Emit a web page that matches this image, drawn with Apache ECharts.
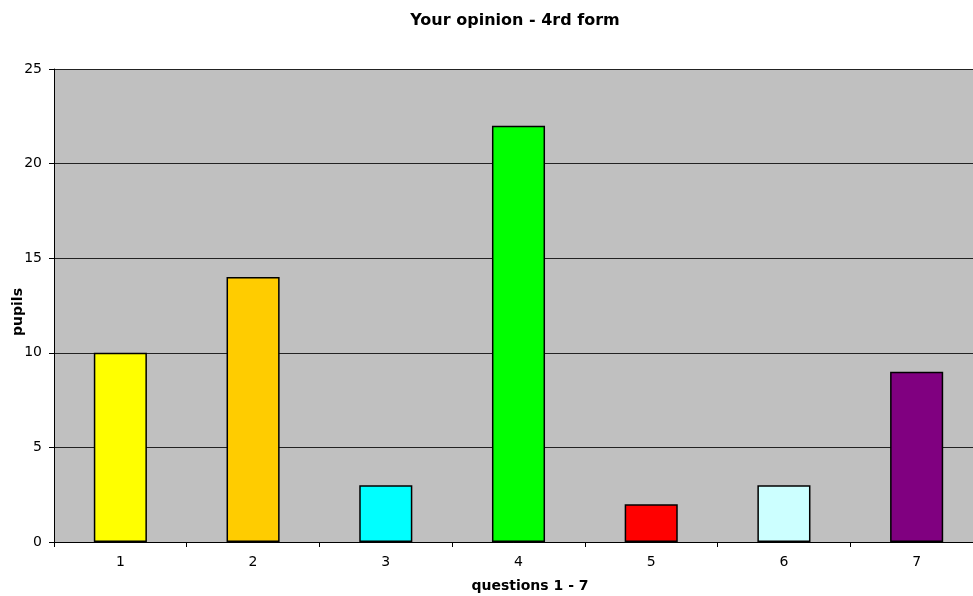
<!DOCTYPE html>
<html>
<head>
<meta charset="utf-8">
<script src="https://cdn.jsdelivr.net/npm/echarts@6/dist/echarts.min.js"></script>
<style>
  html, body { margin: 0; padding: 0; background: #fff; }
  #chart { width: 973px; height: 596px; }
</style>
</head>
<body>
<div id="chart"></div>
<script>
// Survey results: number of pupils per question
const questions = ['1', '2', '3', '4', '5', '6', '7'];
const pupils = [10, 14, 3, 22, 2, 3, 9];
const barColors = ['#FFFF00', '#FFCC00', '#00FFFF', '#00FF00', '#FF0000', '#CCFFFF', '#800080'];
const yTicks = [0, 5, 10, 15, 20, 25];

const font = 'DejaVu Sans, Verdana, sans-serif';
const chart = echarts.init(document.getElementById('chart'));

chart.setOption({
  animation: false,
  title: {
    text: 'Your opinion - 4rd form',
    left: 510,
    top: 8,
    textAlign: 'center',
    textStyle: { fontFamily: font, fontSize: 16, fontWeight: 'bold', color: '#000' }
  },
  grid: {
    left: 54, top: 69, bottom: 54, right: -10,
    outerBoundsMode: 'none',
    containLabel: false,
    show: true, backgroundColor: '#C0C0C0', borderWidth: 0
  },
  graphic: [
    {
      // vertical axis title, reading bottom to top
      type: 'text',
      x: 18, y: 312,
      rotation: Math.PI / 2,
      style: {
        text: 'pupils', x: 0, y: 0, align: 'center', verticalAlign: 'middle',
        font: 'bold 14px ' + font, fill: '#000'
      }
    },
    {
      type: 'text',
      style: {
        text: 'questions 1 - 7', x: 530, y: 586, align: 'center', verticalAlign: 'middle',
        font: 'bold 14px ' + font, fill: '#000'
      }
    }
  ],
  xAxis: {
    type: 'category',
    data: questions,
    axisLine: { lineStyle: { color: '#000', width: 1 } },
    axisTick: { show: true, alignWithLabel: false, length: 5, lineStyle: { color: '#000' } },
    axisLabel: { fontFamily: font, fontSize: 14, color: '#000', margin: 13 }
  },
  yAxis: {
    type: 'value',
    min: yTicks[0],
    max: yTicks[yTicks.length - 1],
    interval: 5,
    axisLine: { show: true, lineStyle: { color: '#000', width: 1 } },
    axisTick: { show: true, length: 5, lineStyle: { color: '#000' } },
    axisLabel: { fontFamily: font, fontSize: 14, color: '#000', margin: 12 },
    splitLine: { show: true, lineStyle: { color: '#222', width: 1 } }
  },
  series: [{
    type: 'bar',
    barWidth: '40%',
    data: pupils.map((v, i) => ({
      value: v,
      itemStyle: { color: barColors[i], borderColor: '#000', borderWidth: 1.5 }
    }))
  }]
});
</script>
</body>
</html>
